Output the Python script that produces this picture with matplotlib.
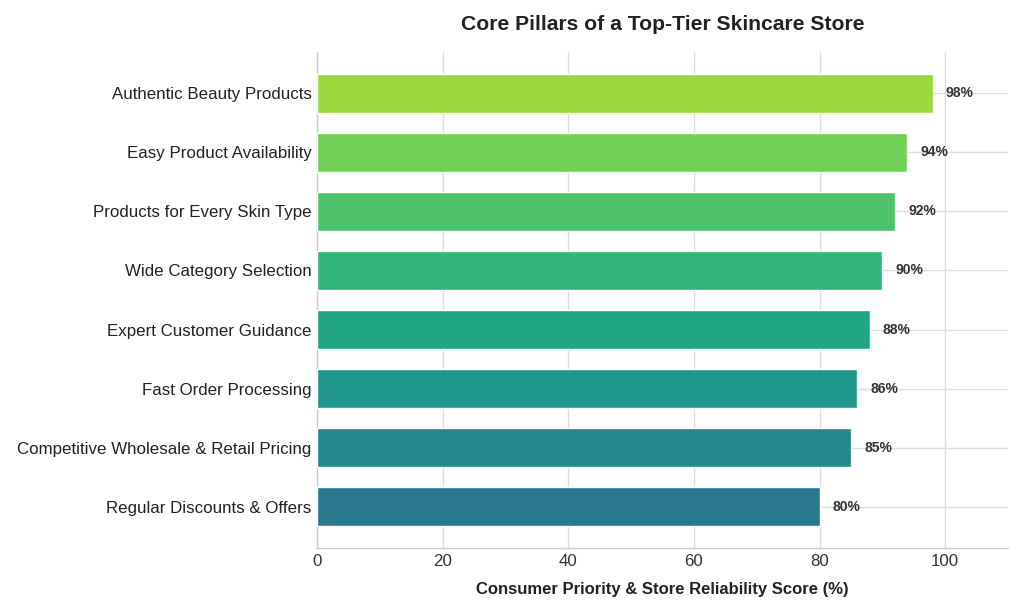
import numpy as np
import matplotlib.pyplot as plt

plt.rcParams['font.family'] = ['Liberation Sans', 'DejaVu Sans']

categories = ["Authentic Beauty Products", "Easy Product Availability",
              "Products for Every Skin Type", "Wide Category Selection",
              "Expert Customer Guidance", "Fast Order Processing",
              "Competitive Wholesale & Retail Pricing", "Regular Discounts & Offers"]
scores = [98, 94, 92, 90, 88, 86, 85, 80]

colors = plt.cm.viridis(np.linspace(0.85, 0.4, len(categories)))

fig = plt.figure(figsize=(10.24, 6.14), dpi=100)
ax = fig.add_axes([317/1024, 1-548/614, (1008-317)/1024, (548-52)/614])

y = np.arange(len(categories))
ax.barh(y, scores, height=0.65, color=colors, edgecolor='white', linewidth=1, zorder=3)
for yi, s in zip(y, scores):
    ax.text(s + 2.1, yi, f"{s}%", va='center', ha='left', fontsize=10,
            fontweight='bold', color='#333333', zorder=4)

ax.set_yticks(y)
ax.set_yticklabels(categories, fontsize=12.2, color='#222222')
ax.set_xlim(0, 110)
ax.set_ylim(len(categories) - 0.3, -0.7)
ax.set_xticks([0, 20, 40, 60, 80, 100])
ax.tick_params(axis='x', labelsize=12.2, colors='#333333', length=0, pad=4)
ax.tick_params(axis='y', length=0, pad=4)
ax.grid(True, color='#dddddd', linewidth=1, zorder=0)
ax.set_axisbelow(True)
for sp in ['top', 'right']:
    ax.spines[sp].set_visible(False)
for sp in ['left', 'bottom']:
    ax.spines[sp].set_color('#cccccc')
    ax.spines[sp].set_linewidth(1)

ax.set_xlabel("Consumer Priority & Store Reliability Score (%)", fontsize=12,
              fontweight='bold', color='#222222', labelpad=10)
ax.set_title("Core Pillars of a Top-Tier Skincare Store", fontsize=15.2,
             fontweight='bold', color='#222222', pad=16)

fig.savefig("out.png", dpi=100)
